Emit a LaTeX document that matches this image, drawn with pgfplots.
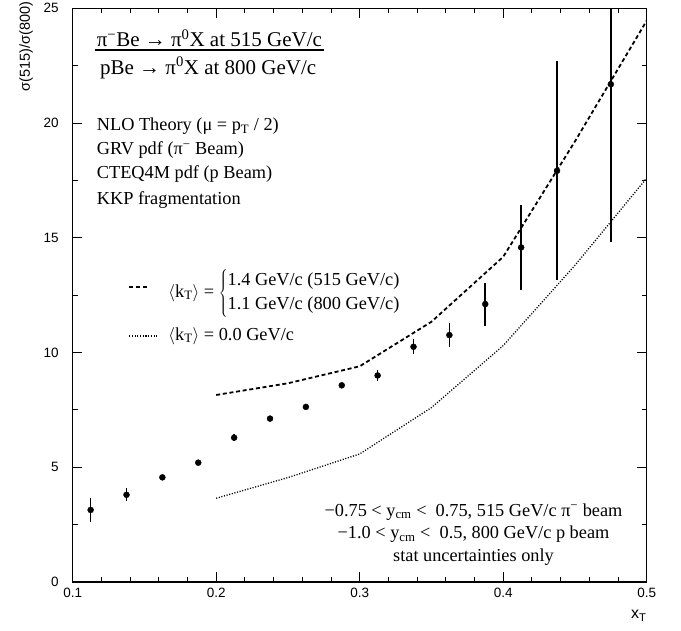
\documentclass[border=0pt]{standalone}
\usepackage{fontspec}
\setmainfont{Liberation Serif}
\newfontfamily\sansf{Liberation Sans}
\usepackage{pgfplots}
\pgfplotsset{compat=1.18}
\newcommand{\txtfont}{\fontsize{18.3bp}{22bp}\selectfont}
\newcommand{\ttlfont}{\fontsize{21bp}{25bp}\selectfont}
\begin{document}
\begin{tikzpicture}
\begin{axis}[
  scale only axis, width=574bp, height=573.7bp,
  xmin=0.1, xmax=0.5, ymin=0, ymax=25,
  axis line style={line width=1.2bp},
  xtick={0.1,0.2,0.3,0.4,0.5}, ytick={0,5,10,15,20,25},
  xticklabels={0.1,0.2,0.3,0.4,0.5},
  minor x tick num=4, minor y tick num=1,
  tick align=inside,
  major tick length=9.5bp, minor tick length=5bp,
  every tick/.style={black, line width=1bp},
  ticklabel style={font=\sansf\fontsize{13.5bp}{15bp}\selectfont},
  /pgf/number format/assume math mode=true,
  xticklabel style={yshift=-2.7bp},
  yticklabel style={xshift=-10.5bp},
]
\coordinate (TL) at (rel axis cs:0,1);
\coordinate (BR) at (rel axis cs:1,0);
\coordinate (O) at (rel axis cs:0,0);

% theory curves
\addplot[black, line width=1.8bp, dash pattern=on 4bp off 2.7bp] coordinates {
 (0.2,8.15) (0.25,8.66) (0.3,9.4) (0.35,11.34) (0.4,14.17) (0.45,19.2) (0.5,24.46)};
\addplot[black, line width=1.3bp, dash pattern=on 1.1bp off 1.6bp] coordinates {
 (0.2,3.65) (0.25,4.55) (0.3,5.58) (0.35,7.6) (0.4,10.3) (0.45,13.8) (0.5,17.6)};

% data
\addplot[black, only marks, mark=*, mark size=3bp,
  error bars/.cd, y dir=both, y explicit, error mark=none,
  error bar style={line width=1.6bp, black}]
 table[x=x, y=y, y error=e] {
x y e
0.1125 3.14 0.51
0.1375 3.80 0.28
0.1625 4.56 0.08
0.1875 5.20 0.08
0.2125 6.29 0.15
0.2375 7.12 0.08
0.2625 7.63 0.08
0.2875 8.57 0.10
0.3125 9.00 0.23
0.3375 10.25 0.33
0.3625 10.76 0.51
0.3875 12.11 0.94
0.4125 14.58 1.84
0.4375 17.92 4.77
0.4750 21.69 6.86
};

% title fraction
\node[anchor=base west, inner sep=0pt, font=\ttlfont] (l1) at (axis cs:0.1167,23.325)
  {π\textsuperscript{−}Be → π\textsuperscript{0}X at 515 GeV/c};
\node[anchor=base west, inner sep=0pt, font=\ttlfont] (l2) at (axis cs:0.1190,22.135)
  {pBe → π\textsuperscript{0}X at 800 GeV/c};
\coordinate (bc) at (axis cs:0.2057,23.18);
\draw[line width=1.2bp] ([xshift=-2bp]l1.west |- bc) -- ([xshift=2bp]l1.east |- bc);

% description
\node[anchor=base west, inner sep=0pt, font=\txtfont] at (axis cs:0.1167,19.66)
  {NLO Theory (μ = p\textsubscript{T} / 2)};
\node[anchor=base west, inner sep=0pt, font=\txtfont] at (axis cs:0.1167,18.61)
  {GRV pdf (π\textsuperscript{−} Beam)};
\node[anchor=base west, inner sep=0pt, font=\txtfont] at (axis cs:0.1167,17.59)
  {CTEQ4M pdf (p Beam)};
\node[anchor=base west, inner sep=0pt, font=\txtfont] at (axis cs:0.1167,16.47)
  {KKP fragmentation};

% legend
\draw[black, line width=1.8bp, dash pattern=on 4bp off 2.7bp] (axis cs:0.1394,12.87) -- (axis cs:0.1533,12.87);
\draw[black, line width=1.3bp, dash pattern=on 1.1bp off 1.6bp] (axis cs:0.1394,10.72) -- (axis cs:0.1585,10.72);
\node[anchor=west, inner sep=0pt, font=\txtfont] at (axis cs:0.1666,12.59)
  {\renewcommand\arraystretch{1.09}$\langle$k\textsubscript{T}$\rangle$ = $\left\{\begin{tabular}{@{}l@{}}1.4 GeV/c (515 GeV/c)\\1.1 GeV/c (800 GeV/c)\end{tabular}\right.$};
\node[anchor=base west, inner sep=0pt, font=\txtfont] at (axis cs:0.1666,10.54)
  {$\langle$k\textsubscript{T}$\rangle$ = 0.0 GeV/c};

% bottom right
\node[anchor=base, inner sep=0pt, font=\txtfont] at (axis cs:0.3793,2.876)
  {−0.75 < y\textsubscript{cm} <\ \ 0.75, 515 GeV/c π\textsuperscript{−} beam};
\node[anchor=base, inner sep=0pt, font=\txtfont] at (axis cs:0.3793,1.874)
  {−1.0 < y\textsubscript{cm} <\ \ 0.5, 800 GeV/c p beam};
\node[anchor=base, inner sep=0pt, font=\txtfont] at (axis cs:0.3793,0.885)
  {stat uncertainties only};
\end{axis}
\node[rotate=90, anchor=south east, inner sep=0pt, font=\sansf\fontsize{14.5bp}{16bp}\selectfont]
  at ([xshift=-39.7bp, yshift=6.6bp]TL) {σ(515)/σ(800)};
\node[anchor=north east, inner sep=0pt, font=\sansf\fontsize{16bp}{18bp}\selectfont]
  at ([yshift=-28bp]BR) {x\textsubscript{T}};
\pgfresetboundingbox
\path ([xshift=-72.7bp, yshift=-49bp]O) rectangle ++(681bp,631bp);
\end{tikzpicture}
\end{document}
